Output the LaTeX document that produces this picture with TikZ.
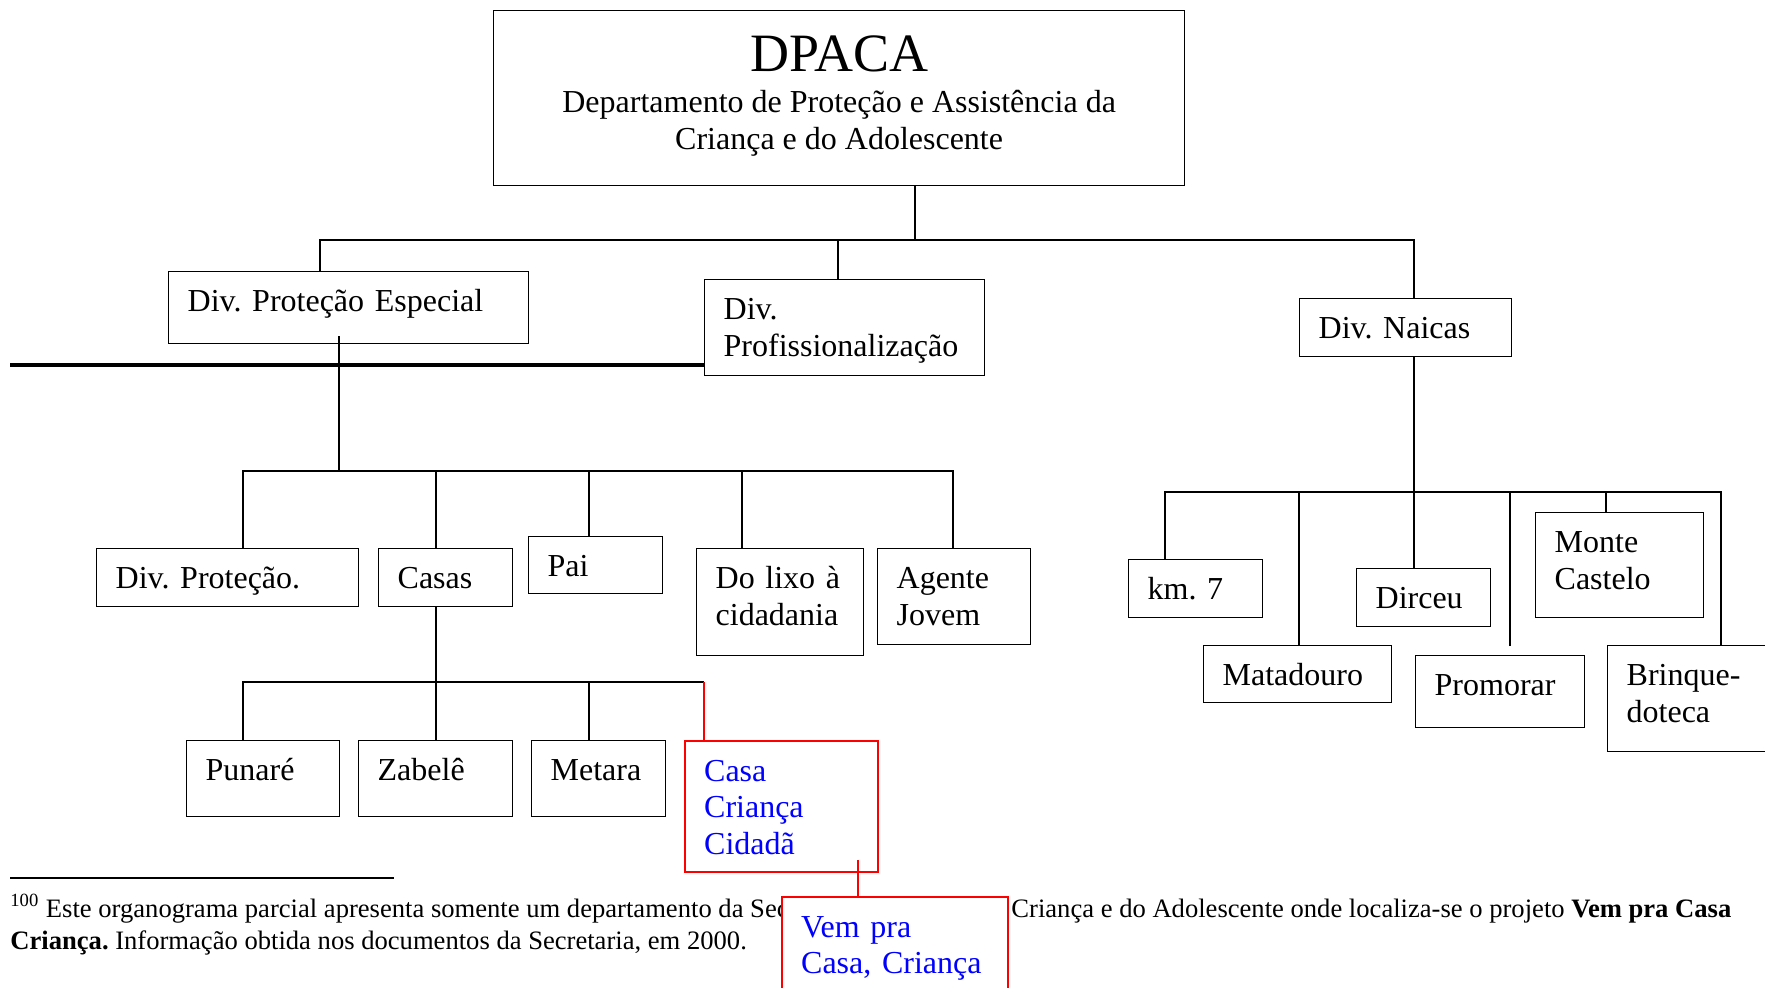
\documentclass[tikz,border=0pt]{standalone}
\usepackage{fontspec}
\setmainfont{Liberation Serif}
\usetikzlibrary{calc}
\frenchspacing

\begin{document}
\begin{tikzpicture}[x=0.5pt, y=-0.5pt,
  orgbox/.style={draw, rectangle, line width=0.65pt, anchor=north west, align=left,
    inner xsep=9.5pt, inner ysep=0pt, text height=20pt, text depth=#1,
    font=\fontsize{16}{18.4}\selectfont},
  redbox/.style={orgbox=#1, draw=red, line width=1.15pt, text=blue, fill=white},
  link/.style={line width=0.65pt},
  redlink/.style={draw=red, line width=0.85pt},
  note/.style={anchor=base west, inner sep=0pt, font=\fontsize{13.3}{16}\selectfont}]
\useasboundingbox (0,0) rectangle (1765,988);
\clip (0,0) rectangle (1765,988);

% Department
\node[draw, line width=0.65pt, anchor=north west, minimum width=345.5pt, minimum height=87.5pt,
  align=center, font=\fontsize{16}{18.4}\selectfont] (dpaca) at (493,10)
  {{\fontsize{27}{30}\selectfont DPACA}\\[2pt]Departamento de Proteção e Assistência da\\Criança e do Adolescente\rule[-5.7pt]{0pt}{0pt}};

% Divisions
\node[orgbox=16pt, text width=161pt] (dpe) at (168,271) {Div. Proteção Especial};
\node[orgbox=28pt, text width=121pt] (dprof) at (704,279) {Div.\\Profissionalização};
\node[orgbox=9pt, text width=87pt] (naicas) at (1299,298) {Div. Naicas};

% Protecao Especial
\node[orgbox=9pt, text width=112pt] (dprot) at (96,548) {Div. Proteção.};
\node[orgbox=9pt, text width=48pt] (casas) at (378,548) {Casas};
\node[orgbox=8.5pt, text width=48pt] (pai) at (528,536) {Pai};
\node[orgbox=33.5pt, text width=64.5pt] (lixo) at (696,548) {Do lixo à\\cidadania};
\node[orgbox=28pt, text width=57.5pt] (agente) at (877,548) {Agente\\Jovem};

% Casas
\node[orgbox=18pt, text width=57.5pt] (punare) at (186,740) {Punaré};
\node[orgbox=18pt, text width=58pt] (zabele) at (358,740) {Zabelê};
\node[orgbox=18pt, text width=48pt] (metara) at (531,740) {Metara};
\node[redbox=45.5pt, text width=77.5pt] (ccc) at (684,740) {Casa\\Criança\\Cidadã};

% Naicas
\node[orgbox=9pt, text width=48pt] (km) at (1128,559) {km. 7};
\node[orgbox=8.5pt, text width=75pt] (matadouro) at (1203,645) {Matadouro};
\node[orgbox=9pt, text width=48pt] (dirceu) at (1356,568) {Dirceu};
\node[orgbox=16pt, text width=65.5pt] (promorar) at (1415,655) {Promorar};
\node[orgbox=32.5pt, text width=65pt] (monte) at (1535,512) {Monte\\Castelo};
\node[orgbox=33pt, text width=66pt] (brinq) at (1607,645) {Brinque-\\doteca};

% Connectors
\draw[link] (dpaca.south -| 915,0) -- (915,240);
\draw[link] (dpe.north -| 320,0) -- (320,240) -- (1414,240) -- (naicas.north -| 1414,0);
\draw[link] (dprof.north -| 838,0) -- (838,240);
\draw[line width=1.7pt] (10,365) -- (dprof.west |- 0,365);

\draw[link] ($(dpe.south -| 339,0)+(0,-8)$) -- (339,471);
\draw[link] (dprot.north -| 243,0) -- (243,471) -- (953,471) -- (agente.north -| 953,0);
\draw[link] (casas.north -| 436,0) -- (436,471);
\draw[link] (pai.north -| 589,0) -- (589,471);
\draw[link] (lixo.north -| 742,0) -- (742,471);

\draw[link] (casas.south -| 436,0) -- (zabele.north -| 436,0);
\draw[link] (punare.north -| 243,0) -- (243,682) -- (704,682);
\draw[link] (metara.north -| 589,0) -- (589,682);
\draw[redlink] (704,682) -- (ccc.north -| 704,0);

\draw[link] (naicas.south -| 1414,0) -- (dirceu.north -| 1414,0);
\draw[link] (km.north -| 1165,0) -- (1165,492) -- (1721,492) -- (brinq.north -| 1721,0);
\draw[link] (matadouro.north -| 1299,0) -- (1299,492);
\draw[link] ($(promorar.north -| 1510,0)+(0,-9)$) -- (1510,492);
\draw[link] (monte.north -| 1606,0) -- (1606,492);

% Footnote
\draw[line width=1.1pt] (10,878) -- (394,878);
\node[note] (fnA) at (10,917) {\textsuperscript{100} Este organograma parcial apresenta somente um departamento da Sec};
\node[note] (fnB) at (1011,917) {Criança e do Adolescente onde localiza-se o projeto \textbf{Vem pra Casa}};
\node[note] (fnC) at (10,949) {\textbf{Criança.} Informação obtida nos documentos da Secretaria, em 2000.};

% Project
\node[redbox=30.5pt, text width=94pt] (vem) at (781,896) {Vem pra\\Casa, Criança};
\draw[redlink] ($(ccc.south -| 858,0)+(0,-13)$) -- (vem.north -| 858,0);

\end{tikzpicture}
\end{document}
